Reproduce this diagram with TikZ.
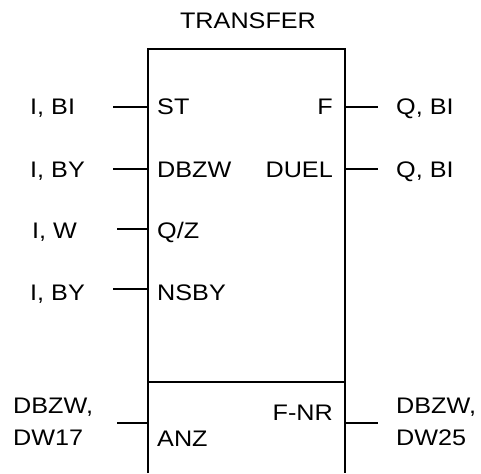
\documentclass[tikz,border=0pt]{standalone}
\usepackage{fontspec}
\setmainfont{Liberation Sans}[FakeStretch=1.12]

\begin{document}
\begin{tikzpicture}[x=1pt, y=-1pt,
    lbl/.style={inner sep=0pt, text height=16pt, text depth=0pt,
        font=\fontsize{22.5}{32}\selectfont},
    two/.style={inner sep=0pt, align=left,
        font=\fontsize{22.5}{32}\selectfont},
    wire/.style={line width=1.4pt}]
    \useasboundingbox (0, 0) rectangle (481, 473);

    % block outline, open at the bottom
    \coordinate (tl) at (148, 49);
    \coordinate (tr) at (345, 49);
    \coordinate (bl) at (148, 473);
    \coordinate (br) at (345, 473);
    \coordinate (ml) at (148, 382);
    \coordinate (mr) at (345, 382);
    \draw[wire] (bl) -- (tl) -- (tr) -- (br);
    \draw[wire] (ml) -- (mr);

    \node[lbl] at (248, 21) (title) {TRANSFER};

    % inputs
    \node[lbl, anchor=west] at (157, 107) (st) {ST};
    \node[lbl, anchor=west] at (157, 169) (dbzw) {DBZW};
    \node[lbl, anchor=west] at (157, 230) (qz) {Q/Z};
    \node[lbl, anchor=west] at (157, 292) (nsby) {NSBY};
    \node[lbl, anchor=west] at (157, 438) (anz) {ANZ};

    % outputs
    \node[lbl, anchor=east] at (333, 107) (f) {F};
    \node[lbl, anchor=east] at (333, 169) (duel) {DUEL};
    \node[lbl, anchor=east] at (333, 412) (fnr) {F-NR};

    % operands
    \node[lbl, anchor=west] at (30, 107) (opst) {I, BI};
    \node[lbl, anchor=west] at (30, 169) (opdbzw) {I, BY};
    \node[lbl, anchor=west] at (32, 230) (opqz) {I, W};
    \node[lbl, anchor=west] at (30, 292) (opnsby) {I, BY};
    \node[two, anchor=west] at (13, 422) (opanz) {DBZW,\\DW17};
    \node[lbl, anchor=west] at (396, 107) (opf) {Q, BI};
    \node[lbl, anchor=west] at (396, 169) (opduel) {Q, BI};
    \node[two, anchor=west] at (396, 422) (opfnr) {DBZW,\\DW25};

    % pin lines
    \coordinate (p1a) at (113, 107);  \coordinate (p1b) at (148, 107);
    \coordinate (p2a) at (113, 169);  \coordinate (p2b) at (148, 169);
    \coordinate (p3a) at (117, 229);  \coordinate (p3b) at (148, 229);
    \coordinate (p4a) at (113, 289);  \coordinate (p4b) at (148, 289);
    \coordinate (p5a) at (117, 423);  \coordinate (p5b) at (148, 423);
    \coordinate (q1a) at (345, 107);  \coordinate (q1b) at (378, 107);
    \coordinate (q2a) at (345, 169);  \coordinate (q2b) at (378, 169);
    \coordinate (q3a) at (345, 423);  \coordinate (q3b) at (378, 423);

    \draw[wire] (p1a) -- (p1b);
    \draw[wire] (p2a) -- (p2b);
    \draw[wire] (p3a) -- (p3b);
    \draw[wire] (p4a) -- (p4b);
    \draw[wire] (p5a) -- (p5b);
    \draw[wire] (q1a) -- (q1b);
    \draw[wire] (q2a) -- (q2b);
    \draw[wire] (q3a) -- (q3b);
\end{tikzpicture}
\end{document}
